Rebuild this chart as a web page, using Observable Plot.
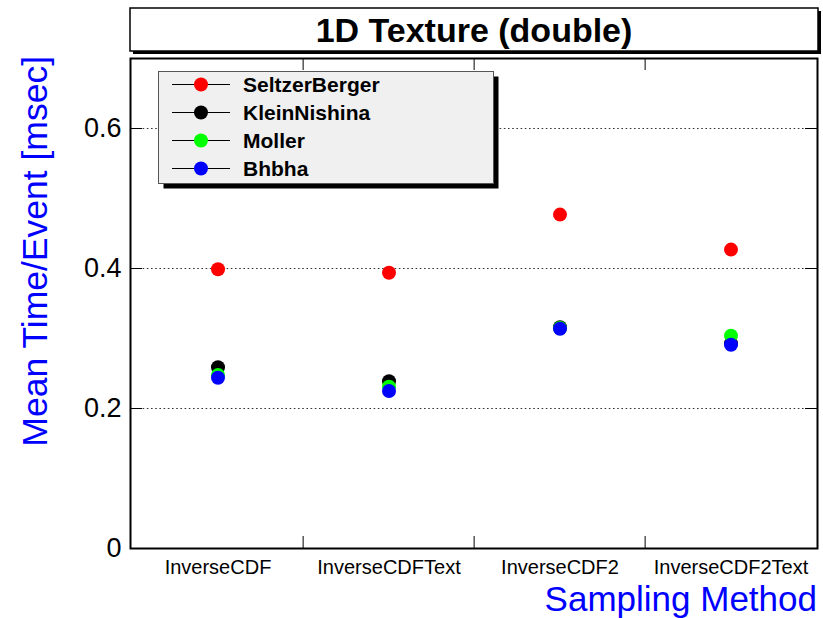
<!DOCTYPE html>
<html>
<head>
<meta charset="utf-8">
<script src="https://cdn.jsdelivr.net/npm/d3@7"></script>
<script src="https://cdn.jsdelivr.net/npm/@observablehq/plot@0.6"></script>
<style>
  html, body { margin: 0; padding: 0; background: #fff; }
  #chart svg { display: block; }
</style>
</head>
<body>
<div id="chart"></div>
<script>
// Sampling methods (x categories)
const methods = ["InverseCDF", "InverseCDFText", "InverseCDF2", "InverseCDF2Text"];

// Physics models (series) and their marker colours
const seriesNames = ["SeltzerBerger", "KleinNishina", "Moller", "Bhbha"];
const seriesColors = ["#ff0000", "#000000", "#00ff00", "#0000ff"];

// Mean time per event [msec], one value per sampling method
const seltzerBerger = [0.399, 0.394, 0.477, 0.427];
const kleinNishina  = [0.259, 0.239, 0.316, 0.293];
const moller        = [0.248, 0.231, 0.315, 0.304];
const bhbha         = [0.244, 0.225, 0.314, 0.291];

// Y axis tick values
const yTicks = [0, 0.2, 0.4, 0.6];

const titleText = "1D Texture (double)";
const yTitle = "Mean Time/Event [msec]";
const xTitle = "Sampling Method";

const seriesValues = [seltzerBerger, kleinNishina, moller, bhbha];
const rows = seriesNames.flatMap((s, i) =>
  methods.map((m, j) => ({series: s, method: m, value: seriesValues[i][j]}))
);

const W = 823, H = 618;
const mL = 130, mR = 6, mT = 58, mB = 70;
const frameW = W - mL - mR, frameH = H - mT - mB;
const tick = 12;
const font = "'Liberation Sans', Arial, Helvetica, sans-serif";

const plot = Plot.plot({
  width: W,
  height: H,
  marginLeft: mL,
  marginRight: mR,
  marginTop: mT,
  marginBottom: mB,
  style: {fontFamily: font, background: "#fff", color: "#000"},
  x: {type: "band", domain: methods, padding: 0, label: null},
  y: {domain: [0, 0.7], label: null},
  color: {domain: seriesNames, range: seriesColors},
  marks: [
    // dotted grid at the labelled values
    Plot.ruleY(yTicks.filter(d => d > 0), {y: d => d, stroke: "#333", strokeWidth: 1.2, strokeDasharray: "1.6,2.6"}),
    // inward ticks on left and right edges
    Plot.ruleY(yTicks, {y: d => d, insetRight: frameW - tick, stroke: "#000"}),
    Plot.ruleY(yTicks, {y: d => d, insetLeft: frameW - tick, stroke: "#000"}),
    // inward ticks at the category boundaries, bottom and top
    Plot.ruleX(methods.slice(1), {x: d => d, dx: -frameW / methods.length / 2, insetTop: frameH - tick, stroke: "#000"}),
    Plot.ruleX(methods.slice(1), {x: d => d, dx: -frameW / methods.length / 2, insetBottom: frameH - tick, stroke: "#000"}),
    Plot.axisY(yTicks, {tickSize: 0, tickPadding: 9, fontSize: 27, label: null,
      tickFormat: d => d === 0 ? "0" : d.toFixed(1)}),
    Plot.axisX({tickSize: 0, tickPadding: 11, fontSize: 20, label: null}),
    Plot.frame({stroke: "#000", strokeWidth: 2}),
    Plot.dot(rows, {x: "method", y: "value", fill: "series", r: 7})
  ]
});

document.getElementById("chart").appendChild(plot);

const svg = d3.select(plot);
const color = plot.scale("color");

// Axis titles
svg.append("text")
  .attr("transform", `translate(47,${mT - 2}) rotate(-90)`)
  .attr("text-anchor", "end")
  .attr("font-family", font)
  .attr("font-size", 35.5)
  .attr("fill", "#0000ff")
  .text(yTitle);

svg.append("text")
  .attr("x", W - mR)
  .attr("y", 611)
  .attr("text-anchor", "end")
  .attr("font-family", font)
  .attr("font-size", 35)
  .attr("fill", "#0000ff")
  .text(xTitle);

// Title box with drop shadow
const tb = {x: mL, y: 8, w: frameW + 1, h: 43};
svg.append("rect")
  .attr("x", tb.x + 3).attr("y", tb.y + 3).attr("width", tb.w).attr("height", tb.h)
  .attr("fill", "#000");
svg.append("rect")
  .attr("x", tb.x).attr("y", tb.y).attr("width", tb.w).attr("height", tb.h)
  .attr("fill", "#fff").attr("stroke", "#000").attr("stroke-width", 1.5);
svg.append("text")
  .attr("x", tb.x + tb.w / 2)
  .attr("y", 42)
  .attr("text-anchor", "middle")
  .attr("font-family", font)
  .attr("font-weight", "bold")
  .attr("font-size", 34)
  .attr("fill", "#000")
  .text(titleText);

// Legend box with drop shadow
const lg = {x: 158.5, y: 71.5, w: 335, h: 112};
svg.append("rect")
  .attr("x", lg.x + 5).attr("y", lg.y + 5).attr("width", lg.w).attr("height", lg.h)
  .attr("fill", "#000");
svg.append("rect")
  .attr("x", lg.x).attr("y", lg.y).attr("width", lg.w).attr("height", lg.h)
  .attr("fill", "#f0f0f0").attr("stroke", "#555").attr("stroke-width", 1);

const entry = svg.append("g")
  .selectAll("g")
  .data(seriesNames)
  .join("g")
  .attr("transform", (d, i) => `translate(0,${84.5 + i * 28})`);
entry.append("line")
  .attr("x1", 172).attr("x2", 230).attr("y1", 0).attr("y2", 0)
  .attr("stroke", "#000").attr("stroke-width", 1.2);
entry.append("circle")
  .attr("cx", 201).attr("cy", 0).attr("r", 7)
  .attr("fill", d => color.apply(d));
entry.append("text")
  .attr("x", 243).attr("y", 7.5)
  .attr("text-anchor", "start")
  .attr("font-family", font)
  .attr("font-weight", "bold")
  .attr("font-size", 21)
  .attr("fill", "#000")
  .text(d => d);
</script>
</body>
</html>
